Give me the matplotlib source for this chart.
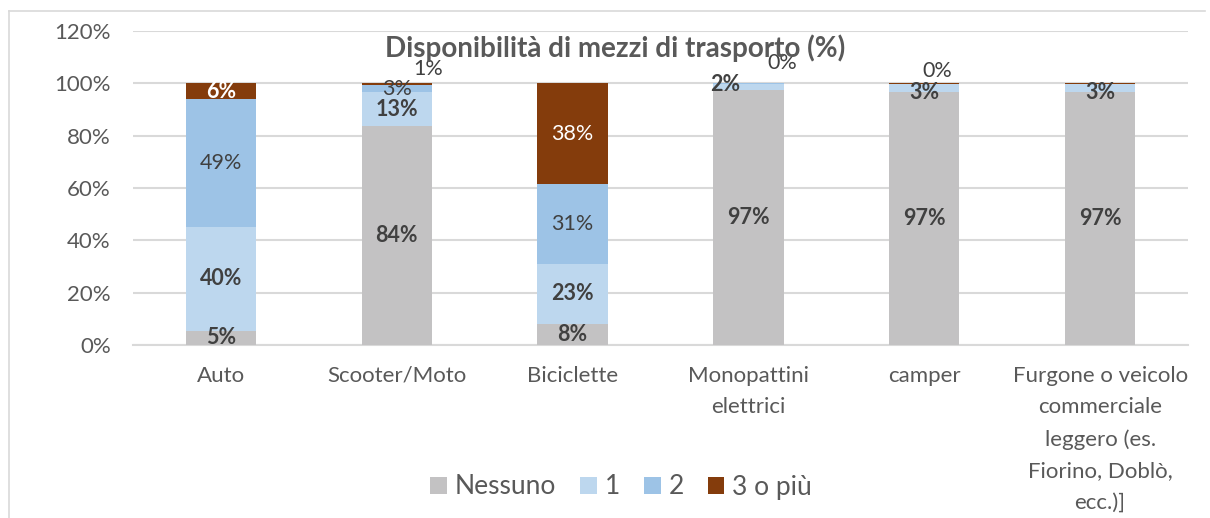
import numpy as np
import matplotlib.pyplot as plt
from matplotlib.patches import Patch
from matplotlib.lines import Line2D

# data (percent)
categories = ['Auto', 'Scooter/Moto', 'Biciclette', 'Monopattini\nelettrici', 'camper',
              'Furgone o veicolo\ncommerciale\nleggero (es.\nFiorino, Doblò,\necc.)]']
series_names = ['Nessuno', '1', '2', '3 o più']
nessuno = [5.4, 83.6, 8.1, 97.4, 96.7, 96.6]
uno = [39.8, 12.9, 22.9, 2.4, 3.0, 3.1]
due = [48.7, 2.8, 30.6, 0.2, 0.1, 0.1]
tre_piu = [6.1, 0.7, 38.4, 0.0, 0.2, 0.2]
title = 'Disponibilità di mezzi di trasporto (%)'

colors = ['#c3c2c3', '#bdd7ee', '#9dc3e6', '#843c0c']
label_color = ['#404040', '#404040', '#404040', 'white']
label_weight = ['bold', 'bold', 'normal', 'normal']

# label tweaks: (series, category) -> (dx px, dy px, color, weight); None hides it
tweaks = {
    (3, 0): (0, 0, 'white', 'bold'),
    (3, 1): (31, 15, '#404040', 'normal'),
    (1, 3): (-23, 2, '#404040', 'bold'),
    (2, 3): (34, 21, '#404040', 'normal'),
    (3, 3): None,
    (1, 4): (0, -4, '#404040', 'bold'),
    (2, 4): (13, 13, '#404040', 'normal'),
    (3, 4): None,
    (1, 5): (0, -4, '#404040', 'bold'),
    (2, 5): None,
    (3, 5): None,
}

plt.rcParams['font.family'] = ['Lato', 'DejaVu Sans']

fig = plt.figure(figsize=(12.1, 5.18), dpi=100)
ax = fig.add_axes([133 / 1210, 1 - 345 / 518, 1055 / 1210, 314 / 518])

# chart frame (left + top edges visible)
fig.add_artist(Line2D([9 / 1210, 9 / 1210], [0, 1 - 11 / 518], transform=fig.transFigure,
                      color='#d9d9d9', lw=1.2))
fig.add_artist(Line2D([9 / 1210, 1205 / 1210], [1 - 11 / 518, 1 - 11 / 518],
                      transform=fig.transFigure, color='#d9d9d9', lw=1.2))

x = np.arange(len(categories))
data = [nessuno, uno, due, tre_piu]
bottom = np.zeros(len(categories))
for s, vals in enumerate(data):
    vals = np.array(vals)
    ax.bar(x, vals, 0.4, bottom=bottom, color=colors[s], zorder=3)
    for i in range(len(categories)):
        key = (s, i)
        if key in tweaks and tweaks[key] is None:
            continue
        dx, dy, c, w = tweaks.get(key, (0, 0, label_color[s], label_weight[s]))
        ax.annotate('%.0f%%' % vals[i], (x[i], bottom[i] + vals[i] / 2),
                    xytext=(dx, dy), textcoords='offset pixels',
                    ha='center', va='center', fontsize=15.5, color=c, fontweight=w,
                    zorder=5)
    bottom += vals

ax.set_xlim(-0.5, len(categories) - 0.5)
ax.set_ylim(0, 120)
ax.set_yticks(np.arange(0, 121, 20))
ax.set_yticklabels(['%d%%' % v for v in range(0, 121, 20)])
ax.yaxis.grid(True, color='#d9d9d9', lw=1.5, zorder=0)
ax.set_axisbelow(True)
for sp in ['top', 'right', 'left']:
    ax.spines[sp].set_visible(False)
ax.spines['bottom'].set_color('#d9d9d9')
ax.spines['bottom'].set_linewidth(1.5)
ax.tick_params(axis='both', length=0, labelsize=16, colors='#595959')
ax.tick_params(axis='y', pad=16)
ax.tick_params(axis='x', pad=15)
ax.set_xticks(x)
ax.set_xticklabels(categories, linespacing=1.72, va='top')

fig.text(615 / 1210, 1 - 48 / 518, title, ha='center', va='center',
         fontsize=20, fontweight='bold', color='#595959', zorder=4)

handles = [Patch(facecolor=c) for c in colors]
fig.legend(handles, series_names, loc='center', bbox_to_anchor=(621 / 1210, 1 - 487 / 518),
           ncol=4, frameon=False, fontsize=19, handlelength=0.64, handleheight=0.64,
           handletextpad=0.3, columnspacing=0.9, labelcolor='#595959')

fig.savefig('out.png', dpi=100)
